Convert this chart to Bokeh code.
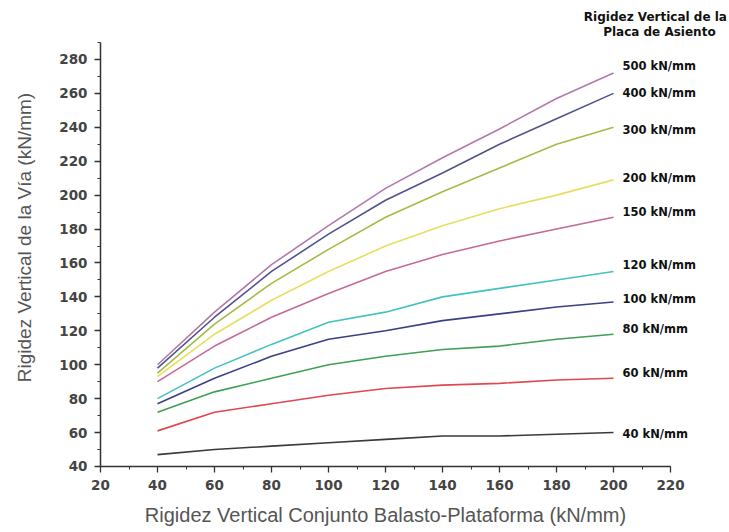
import math
from bokeh.plotting import figure
from bokeh.models import Range1d, SingleIntervalTicker, Label
from bokeh.embed import file_html
from bokeh.resources import INLINE

# ---- data ----
balasto = [40, 60, 80, 100, 120, 140, 160, 180, 200]
s40 = [47, 50, 52, 54, 56, 58, 58, 59, 60]
s60 = [61, 72, 77, 82, 86, 88, 89, 91, 92]
s80 = [72, 84, 92, 100, 105, 109, 111, 115, 118]
s100 = [77, 92, 105, 115, 120, 126, 130, 134, 137]
s120 = [80, 98, 112, 125, 131, 140, 145, 150, 155]
s150 = [90, 111, 128, 142, 155, 165, 173, 180, 187]
s200 = [93, 118, 138, 155, 170, 182, 192, 200, 209]
s300 = [95, 124, 148, 168, 187, 202, 216, 230, 240]
s400 = [98, 128, 155, 177, 197, 213, 230, 245, 260]
s500 = [100, 131, 159, 182, 204, 222, 239, 257, 272]

series_names = ["40 kN/mm", "60 kN/mm", "80 kN/mm", "100 kN/mm", "120 kN/mm",
                "150 kN/mm", "200 kN/mm", "300 kN/mm", "400 kN/mm", "500 kN/mm"]
series_values = [s40, s60, s80, s100, s120, s150, s200, s300, s400, s500]
x_axis_bounds = (20, 220)
y_axis_bounds = (40, 290)

# ---- styles ----
colors = ["#3a3a3a", "#e2464f", "#3f9f55", "#3b3f86", "#43c3c0",
          "#c46a98", "#e6df5e", "#a4bb44", "#52528c", "#b07aaa"]
label_dy = [-1, 5, 5, 3, 6, 5, 2, -3, 0, 7]

# The frame covers the whole canvas; axes are drawn at fixed data locations
p = figure(width=727, height=530, output_backend="svg", toolbar_location=None,
           x_range=Range1d(-15.09, 240.0), y_range=Range1d(2.26, 314.76),
           min_border=0)
p.outline_line_color = None
p.grid.visible = False
p.background_fill_color = "white"
p.border_fill_color = "white"

for ys, c in zip(series_values, colors):
    p.line(balasto, ys, line_color=c, line_width=1.6)

p.xaxis[0].bounds = x_axis_bounds
p.yaxis[0].bounds = y_axis_bounds
p.xaxis[0].fixed_location = y_axis_bounds[0]
p.yaxis[0].fixed_location = x_axis_bounds[0]

for ax in (p.xaxis[0], p.yaxis[0]):
    ax.ticker = SingleIntervalTicker(interval=20, num_minor_ticks=2)
    ax.axis_line_color = "#333333"
    ax.axis_line_width = 1.5
    ax.major_tick_line_color = "#333333"
    ax.major_tick_line_width = 1.3
    ax.minor_tick_line_color = "#333333"
    ax.major_tick_out = 6
    ax.major_tick_in = 0
    ax.minor_tick_out = 3
    ax.minor_tick_in = 0
    ax.major_label_text_font = "DejaVu Sans"
    ax.major_label_text_font_style = "bold"
    ax.major_label_text_font_size = "13.5px"
    ax.major_label_text_color = "#444444"

p.xaxis[0].major_label_standoff = 8
p.yaxis[0].major_label_standoff = 7

title_font = dict(text_font="Liberation Sans", text_font_style="normal",
                  text_color="#555555", text_align="center", text_baseline="middle")
p.add_layout(Label(x=120, y=11.5,
                   text="Rigidez Vertical Conjunto Balasto-Plataforma (kN/mm)",
                   text_font_size="20px", **title_font))
p.add_layout(Label(x=-6.7, y=175, text="Rigidez Vertical de la Vía (kN/mm)",
                   angle=math.pi / 2, text_font_size="19px", **title_font))

# series labels at line ends
for name, ys, dy in zip(series_names, series_values, label_dy):
    p.add_layout(Label(x=balasto[-1], y=ys[-1], text=name, x_offset=9, y_offset=dy,
                       text_align="left", text_baseline="middle",
                       text_font="DejaVu Sans", text_font_style="bold",
                       text_font_size="11.5px", text_color="#111111"))

# legend title
legend_font = dict(text_align="center", text_baseline="middle",
                   text_font="DejaVu Sans", text_font_style="bold",
                   text_font_size="12px", text_color="#111111")
p.add_layout(Label(x=214.7, y=305.3, text="Rigidez Vertical de la", **legend_font))
p.add_layout(Label(x=216.1, y=295.9, text="Placa de Asiento", **legend_font))

open("out.html", "w").write(file_html(p, INLINE))
